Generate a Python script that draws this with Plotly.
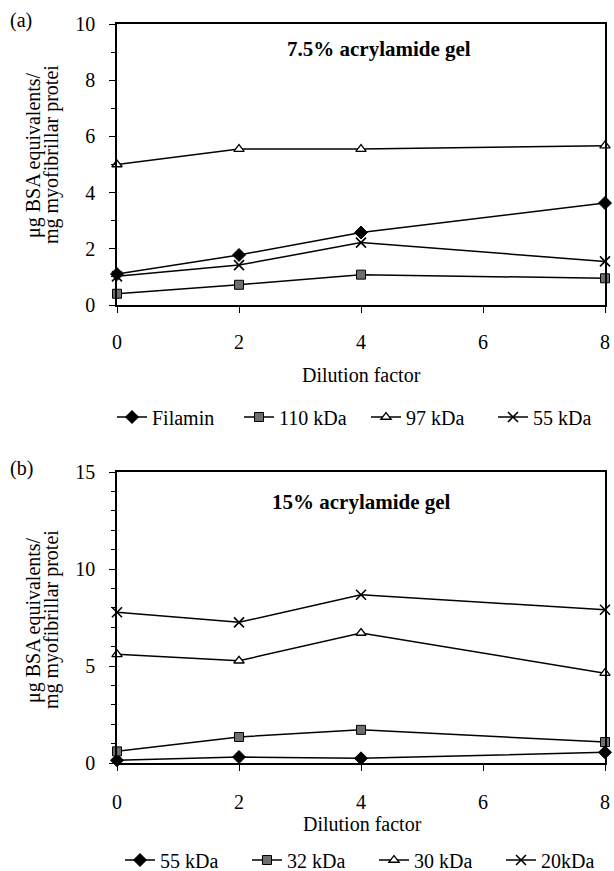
import plotly.graph_objects as go

dilution = [0, 2, 4, 8]

# Panel (a): 7.5% acrylamide gel
a_names = ["Filamin", "110 kDa", "97 kDa", "55 kDa"]
a_filamin = [1.10, 1.78, 2.58, 3.63]
a_110 = [0.40, 0.72, 1.08, 0.95]
a_97 = [5.00, 5.55, 5.55, 5.67]
a_55 = [1.02, 1.42, 2.22, 1.55]

# Panel (b): 15% acrylamide gel
b_names = ["55 kDa", "32 kDa", "30 kDa", "20kDa"]
b_55 = [0.14, 0.31, 0.24, 0.55]
b_32 = [0.60, 1.34, 1.71, 1.08]
b_30 = [5.60, 5.27, 6.70, 4.63]
b_20 = [7.77, 7.25, 8.67, 7.90]

x_ticks = [0, 2, 4, 6, 8]
a_yticks = [0, 2, 4, 6, 8, 10]
b_yticks = [0, 5, 10, 15]

FONT = "Liberation Serif, Times New Roman, serif"
W, H = 614, 871

def px_x(p):
    return p / W

def px_y(p):
    return 1 - p / H

styles = [
    dict(symbol="diamond", size=10, color="black", line=dict(color="black", width=1)),
    dict(symbol="square", size=9, color="#6e6e6e", line=dict(color="black", width=1)),
    dict(symbol="triangle-up", size=9, color="white", line=dict(color="black", width=1.3)),
    dict(symbol="x-thin", size=10, color="black", line=dict(color="black", width=1.6)),
]

fig = go.Figure()

for name, vals, st in zip(a_names, [a_filamin, a_110, a_97, a_55], styles):
    fig.add_trace(go.Scatter(x=dilution, y=vals, name=name, mode="lines+markers",
                             line=dict(color="black", width=1.5), marker=st,
                             xaxis="x", yaxis="y", legend="legend", cliponaxis=False))
for name, vals, st in zip(b_names, [b_55, b_32, b_30, b_20], styles):
    fig.add_trace(go.Scatter(x=dilution, y=vals, name=name, mode="lines+markers",
                             line=dict(color="black", width=1.5), marker=st,
                             xaxis="x2", yaxis="y2", legend="legend2", cliponaxis=False))

axis_common = dict(showline=True, linecolor="black", linewidth=1.5, mirror=True,
                   ticks="outside", ticklen=6, tickcolor="black", tickwidth=1,
                   showgrid=False, zeroline=False, automargin=False,
                   ticklabeloverflow="allow",
                   tickfont=dict(family=FONT, size=20, color="black"))

fig.update_layout(
    template="none",
    width=W, height=H, autosize=False,
    margin=dict(l=0, r=0, t=0, b=0, pad=0, autoexpand=False),
    paper_bgcolor="white", plot_bgcolor="white",
    font=dict(family=FONT, size=20, color="black"),
    xaxis=dict(domain=[px_x(117), px_x(605)], range=[0, 8], tickvals=x_ticks,
               anchor="y", ticklabelstandoff=12, **axis_common),
    yaxis=dict(domain=[px_y(305), px_y(24)], range=[0, 10], tickvals=a_yticks,
               anchor="x", ticklabelstandoff=10,
               minor=dict(dtick=1, ticks="outside", ticklen=4, tickcolor="black", showgrid=False),
               **axis_common),
    xaxis2=dict(domain=[px_x(117), px_x(605)], range=[0, 8], tickvals=x_ticks,
                anchor="y2", ticklabelstandoff=14, **axis_common),
    yaxis2=dict(domain=[px_y(763), px_y(472)], range=[0, 15], tickvals=b_yticks,
                anchor="x2", ticklabelstandoff=10,
                minor=dict(dtick=1, ticks="outside", ticklen=4, tickcolor="black", showgrid=False),
                **axis_common),
    legend=dict(orientation="h", x=px_x(112), xanchor="left", y=px_y(417), yanchor="middle",
                font=dict(family=FONT, size=20), entrywidth=82, entrywidthmode="pixels",
                bgcolor="rgba(0,0,0,0)", borderwidth=0, tracegroupgap=0),
    legend2=dict(orientation="h", x=px_x(120), xanchor="left", y=px_y(860), yanchor="middle",
                 font=dict(family=FONT, size=20), entrywidth=82, entrywidthmode="pixels",
                 bgcolor="rgba(0,0,0,0)", borderwidth=0, tracegroupgap=0),
    showlegend=True,
)

ann = []
ann.append(dict(text="(a)", x=px_x(8), y=px_y(20), xref="paper", yref="paper",
                xanchor="left", yanchor="middle", showarrow=False, font=dict(size=20)))
ann.append(dict(text="(b)", x=px_x(8), y=px_y(468), xref="paper", yref="paper",
                xanchor="left", yanchor="middle", showarrow=False, font=dict(size=20)))
ann.append(dict(text="<b>7.5% acrylamide gel</b>", x=4.3, y=9.1, xref="x", yref="y",
                xanchor="center", yanchor="middle", showarrow=False, font=dict(size=21)))
ann.append(dict(text="<b>15% acrylamide gel</b>", x=4.0, y=13.45, xref="x2", yref="y2",
                xanchor="center", yanchor="middle", showarrow=False, font=dict(size=21)))
ann.append(dict(text="Dilution factor", x=px_x(361), y=px_y(375), xref="paper", yref="paper",
                xanchor="center", yanchor="middle", showarrow=False, font=dict(size=20)))
ann.append(dict(text="Dilution factor", x=px_x(362), y=px_y(824), xref="paper", yref="paper",
                xanchor="center", yanchor="middle", showarrow=False, font=dict(size=20)))
for cy in [155, 620]:
    ann.append(dict(text="\u03bcg BSA equivalents/", x=px_x(33), y=px_y(cy), xref="paper", yref="paper",
                    xanchor="center", yanchor="middle",
                    textangle=-90, showarrow=False, font=dict(size=20)))
    ann.append(dict(text="mg myofibrillar protei", x=px_x(51), y=px_y(cy), xref="paper", yref="paper",
                    xanchor="center", yanchor="middle",
                    textangle=-90, showarrow=False, font=dict(size=20)))
fig.update_layout(annotations=ann)

fig.write_html("out.html", config={"displayModeBar": False},
               post_script="document.body.style.margin='0px';")
